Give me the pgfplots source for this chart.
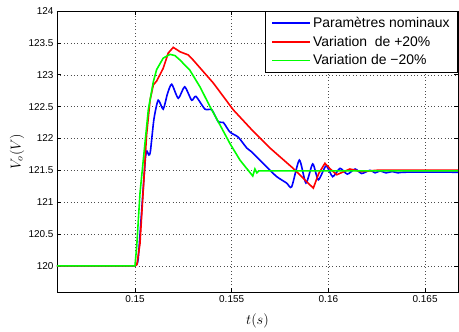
\documentclass[border=0pt]{standalone}
\usepackage{fontspec}
\setmainfont{Liberation Sans}
\usepackage{pgfplots}
\pgfplotsset{compat=1.18}
\begin{document}
\begin{tikzpicture}
\begin{axis}[name=ax, scale only axis, width=401bp, height=281bp,
  xmin=0.14597, xmax=0.1667, ymin=119.59, ymax=124,
  xtick={0.15,0.155,0.16,0.165}, xticklabels={0.15,0.155,0.16,0.165},
  ytick={120,120.5,121,121.5,122,122.5,123,123.5,124},
  yticklabels={120,120.5,121,121.5,122,122.5,123,123.5,124},
  tick align=inside, major tick length=4bp,
  grid=major, major grid style={black!70, dash pattern=on 0.8bp off 2.6bp},
  axis line style={black, line width=0.8bp},
  tick style={black, line width=0.5bp},
  ticklabel style={font=\fontsize{10}{12}\selectfont},
  /pgf/number format/assume math mode=true,
  xlabel={$t(s)$}, ylabel={$V_o(V)$},
  xlabel style={at={(axis description cs:0.5,-0.1032)}, anchor=center, font=\fontsize{14}{16}\selectfont},
  ylabel style={at={(axis description cs:-0.0998,0.5)}, anchor=center, font=\fontsize{14}{16}\selectfont},
  legend style={at={(1,1)}, anchor=north east, draw=black, line width=0.8bp,
    font=\fontsize{14}{16}\selectfont, row sep=3bp, inner xsep=6bp, inner ysep=4bp},
  legend cell align=left,
  legend image code/.code={\draw[#1] (0bp,0bp) -- (38bp,0bp);},
]
\addplot[blue, line width=1.6bp, smooth, tension=0.4] coordinates {
(0.14597,120) (0.1495,120) (0.15,120) (0.15008,120.02) (0.15017,120.12) (0.15035,120.88) (0.15047,121.40)
(0.15055,121.72) (0.15062,121.80) (0.15072,121.74) (0.15080,121.80) (0.15098,122.3)
(0.15120,122.60) (0.15146,122.46) (0.15168,122.70) (0.15190,122.85) (0.15224,122.63)
(0.15257,122.81) (0.15293,122.60) (0.15315,122.66) (0.15362,122.46) (0.15397,122.45)
(0.15431,122.26) (0.15457,122.25) (0.15491,122.10) (0.15534,122.02) (0.15578,121.85)
(0.15603,121.79) (0.15646,121.66) (0.15689,121.53) (0.15733,121.40) (0.15784,121.30)
(0.15810,121.24) (0.15850,121.66) (0.15884,121.30) (0.15919,121.60) (0.15948,121.35)
(0.15988,121.57) (0.16022,121.40) (0.16060,121.53) (0.16098,121.44) (0.16138,121.52)
(0.16172,121.45) (0.16215,121.50) (0.16241,121.46) (0.16267,121.49) (0.16298,121.46)
(0.16329,121.48) (0.16360,121.46) (0.16396,121.47) (0.1667,121.47)
};
\addlegendentry{Paramètres nominaux}
\addplot[red, line width=1.6bp] coordinates {
(0.14597,120) (0.15,120) (0.1501,120.02) (0.15026,120.35) (0.15043,121.2) (0.1506,122.05)
(0.15078,122.6) (0.15095,122.84) (0.15112,122.9) (0.15146,123.1) (0.15172,123.34)
(0.15198,123.43) (0.15233,123.36) (0.15276,123.31) (0.15301,123.23) (0.15405,122.87)
(0.15508,122.45) (0.15612,122.11) (0.15698,121.85) (0.15818,121.53) (0.15922,121.22)
(0.15950,121.45) (0.15982,121.61) (0.16010,121.52) (0.16043,121.43) (0.16111,121.52)
(0.1617,121.48) (0.1625,121.5) (0.1667,121.5)
};
\addlegendentry{Variation\ \ de +20\%}
\addplot[green, line width=1.6bp] coordinates {
(0.14597,120) (0.15,120) (0.15009,120.3) (0.15026,121.14) (0.15043,121.66) (0.15069,122.45)
(0.15095,122.89) (0.15112,123.08) (0.15146,123.26) (0.15181,123.32) (0.15207,123.30)
(0.15233,123.23) (0.15284,123.07) (0.15336,122.81) (0.15388,122.5) (0.15440,122.21)
(0.15491,121.92) (0.15543,121.66) (0.15609,121.41) (0.15620,121.52) (0.15630,121.46)
(0.15640,121.49) (0.1667,121.49)
};
\addlegendentry{Variation de −20\%}
\end{axis}
\pgfresetboundingbox
\path[use as bounding box] ([xshift=-57bp,yshift=-40bp]ax.south west) rectangle ([xshift=1bp,yshift=11bp]ax.north east);
\end{tikzpicture}
\end{document}
